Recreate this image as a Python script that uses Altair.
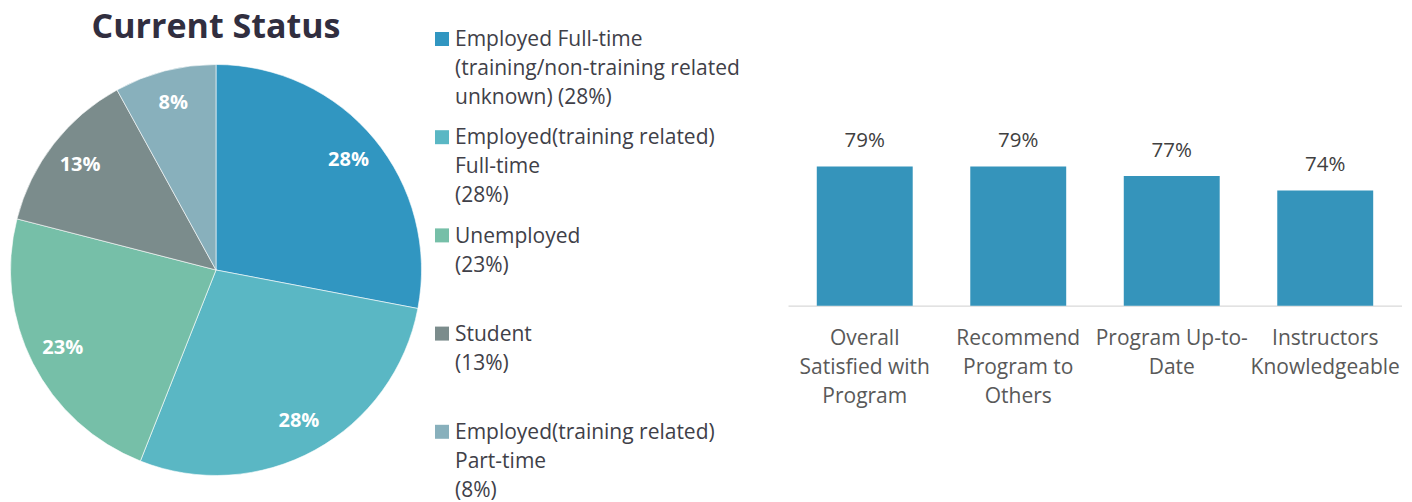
import altair as alt
import pandas as pd

# ---- data: pie ----
status_names = [
    "Employed Full-time (training/non-training related unknown)",
    "Employed(training related) Full-time",
    "Unemployed",
    "Student",
    "Employed(training related) Part-time",
]
status_values = [28, 28, 23, 13, 8]
status_legend_text = [
    "Employed Full-time\n(training/non-training related\nunknown) (28%)",
    "Employed(training related)\nFull-time\n(28%)",
    "Unemployed\n(23%)",
    "Student\n(13%)",
    "Employed(training related)\nPart-time\n(8%)",
]
status_colors = ["#3196C1", "#5AB7C4", "#76BFA8", "#7B8C8C", "#88B0BC"]

# ---- data: bars ----
bar_items = [
    "Overall|Satisfied with|Program",
    "Recommend|Program to|Others",
    "Program Up-to-|Date",
    "Instructors|Knowledgeable",
]
bar_values = [79, 79, 77, 74]

FONT = "Open Sans"

pie_df = pd.DataFrame({
    "status": status_names,
    "value": status_values,
    "order": list(range(len(status_names))),
    "pct": [f"{v}%" for v in status_values],
})

pie_base = alt.Chart(pie_df).encode(
    theta=alt.Theta("value:Q", stack=True),
    order=alt.Order("order:Q"),
)
pie_arc = pie_base.mark_arc(outerRadius=205.5, stroke="#ffffff", strokeWidth=0.6).encode(
    color=alt.Color("status:N", scale=alt.Scale(domain=status_names, range=status_colors), legend=None)
)
pie_text = pie_base.mark_text(
    radius=172, font=FONT, fontSize=20, fontWeight="bold", color="#ffffff"
).encode(text="pct:N")

pie = (pie_arc + pie_text).properties(
    width=432,
    height=450.6,
    title=alt.Title(
        "Current Status", font=FONT, fontSize=34, fontWeight="bold",
        color="#312E3F", anchor="middle", offset=0,
    ),
)

# ---- legend panel ----
leg_df = pd.DataFrame({
    "status": status_names,
    "text": status_legend_text,
    "order": list(range(len(status_names))),
})
leg_base = alt.Chart(leg_df).encode(
    y=alt.Y("order:O", axis=None, scale=alt.Scale(type="point", padding=0)),
)
leg_sq = leg_base.mark_point(shape="square", filled=True, size=196, opacity=1, yOffset=-5.7).encode(
    x=alt.value(10),
    color=alt.Color("status:N", scale=alt.Scale(domain=status_names, range=status_colors), legend=None),
)
leg_txt = leg_base.mark_text(
    align="left", baseline="top", lineBreak="\n", font=FONT, fontSize=21,
    lineHeight=29, color="#404048", yOffset=-15.5,
).encode(x=alt.value(23), text="text:N")
legend = (leg_sq + leg_txt).properties(width=355.25, height=392.8)

# ---- bar panel ----
bar_df = pd.DataFrame({
    "item": bar_items,
    "value": bar_values,
    "pct": [f"{v}%" for v in bar_values],
})
bar_base = alt.Chart(bar_df).encode(
    x=alt.X(
        "item:N", sort=None,
        scale=alt.Scale(paddingInner=0.375, paddingOuter=0.1875),
        axis=alt.Axis(
            title=None, labelExpr="split(datum.label, '|')", labelAngle=0,
            ticks=False, domainColor="#D9D9D9", domainWidth=1.3,
            labelFont=FONT, labelFontSize=21, labelColor="#595959",
            labelLineHeight=29, labelPadding=22, labelLimit=0,
        ),
    ),
)
ysc = alt.Scale(domain=[50, 104.375], zero=False, nice=False)
bars = bar_base.mark_bar(color="#3594BB").encode(
    y=alt.Y("value:Q", scale=ysc, axis=None),
    y2=alt.datum(50),
)
bar_text = bar_base.mark_text(
    baseline="alphabetic", dy=-19.5, font=FONT, fontSize=20.5, color="#404040"
).encode(y=alt.Y("value:Q", scale=ysc, axis=None), text="pct:N")
bar = (bars + bar_text).properties(width=614, height=261)

chart = (
    alt.hconcat(pie, legend, bar, spacing=0)
    .properties(padding={"top": 10.7, "left": 0, "right": 0, "bottom": 0}, background="#ffffff")
    .configure_view(stroke=None)
)

chart.save("out.html", embed_options={"renderer": "svg", "actions": False})
